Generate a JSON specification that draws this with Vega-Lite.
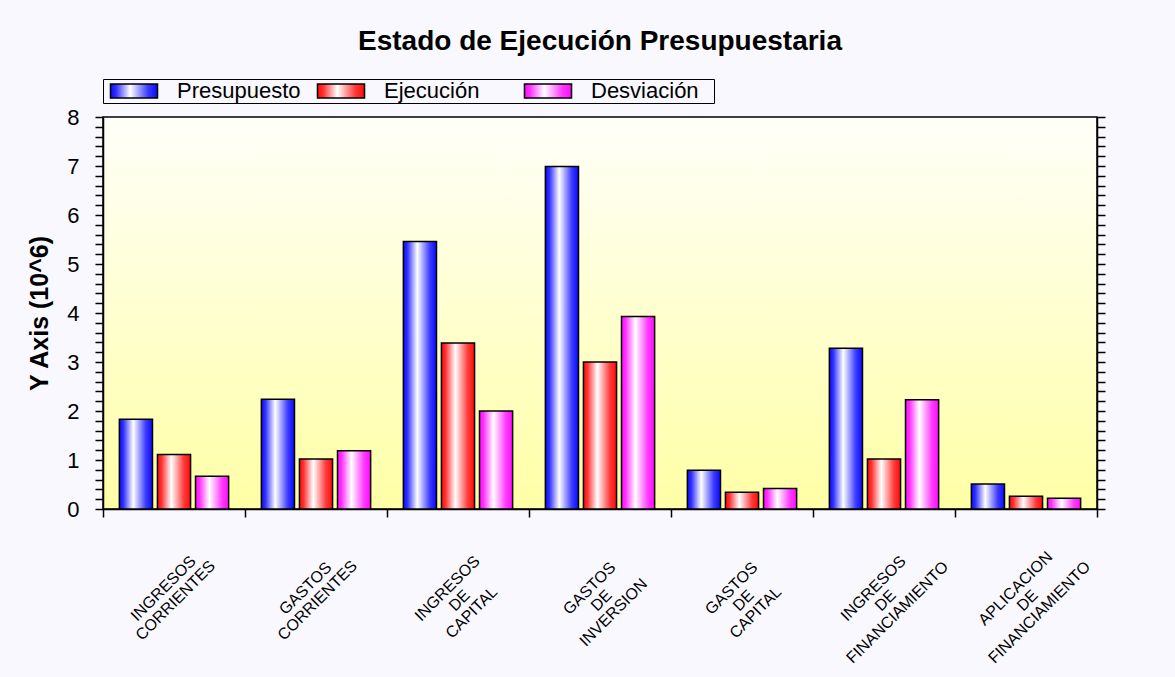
{
  "$schema": "https://vega.github.io/schema/vega-lite/v6.json",
  "autosize": {"type": "none"},
  "padding": {"left": 103, "top": 117, "right": 78, "bottom": 168},
  "width": 994,
  "height": 392,
  "background": "#f8f8fe",
  "title": {
    "text": "Estado de Ejecución Presupuestaria",
    "font": "Liberation Sans",
    "fontSize": 28,
    "fontWeight": "bold",
    "color": "black",
    "anchor": "middle",
    "frame": "group",
    "baseline": "alphabetic",
    "offset": 1
  },
  "config": {
    "view": {
      "fill": {
        "gradient": "linear",
        "x1": 0, "y1": 0, "x2": 0, "y2": 1,
        "stops": [
          {"offset": 0, "color": "#fffffa"},
          {"offset": 1, "color": "#ffffa6"}
        ]
      },
      "stroke": "black",
      "strokeWidth": 1.5
    }
  },
  "data": {
    "values": [
      {"categoria": "INGRESOS CORRIENTES", "serie": "Presupuesto", "valor": 1.83},
      {"categoria": "INGRESOS CORRIENTES", "serie": "Ejecución", "valor": 1.11},
      {"categoria": "INGRESOS CORRIENTES", "serie": "Desviación", "valor": 0.67},
      {"categoria": "GASTOS CORRIENTES", "serie": "Presupuesto", "valor": 2.24},
      {"categoria": "GASTOS CORRIENTES", "serie": "Ejecución", "valor": 1.02},
      {"categoria": "GASTOS CORRIENTES", "serie": "Desviación", "valor": 1.19},
      {"categoria": "INGRESOS DE CAPITAL", "serie": "Presupuesto", "valor": 5.46},
      {"categoria": "INGRESOS DE CAPITAL", "serie": "Ejecución", "valor": 3.39},
      {"categoria": "INGRESOS DE CAPITAL", "serie": "Desviación", "valor": 2.0},
      {"categoria": "GASTOS DE INVERSION", "serie": "Presupuesto", "valor": 6.99},
      {"categoria": "GASTOS DE INVERSION", "serie": "Ejecución", "valor": 3.0},
      {"categoria": "GASTOS DE INVERSION", "serie": "Desviación", "valor": 3.93},
      {"categoria": "GASTOS DE CAPITAL", "serie": "Presupuesto", "valor": 0.79},
      {"categoria": "GASTOS DE CAPITAL", "serie": "Ejecución", "valor": 0.34},
      {"categoria": "GASTOS DE CAPITAL", "serie": "Desviación", "valor": 0.42},
      {"categoria": "INGRESOS DE FINANCIAMIENTO", "serie": "Presupuesto", "valor": 3.28},
      {"categoria": "INGRESOS DE FINANCIAMIENTO", "serie": "Ejecución", "valor": 1.02},
      {"categoria": "INGRESOS DE FINANCIAMIENTO", "serie": "Desviación", "valor": 2.23},
      {"categoria": "APLICACION DE FINANCIAMIENTO", "serie": "Presupuesto", "valor": 0.51},
      {"categoria": "APLICACION DE FINANCIAMIENTO", "serie": "Ejecución", "valor": 0.26},
      {"categoria": "APLICACION DE FINANCIAMIENTO", "serie": "Desviación", "valor": 0.22}
    ]
  },
  "encoding": {
    "x": {
      "field": "categoria",
      "type": "nominal",
      "sort": null,
      "scale": {"paddingInner": 0, "paddingOuter": 0},
      "axis": {
        "title": null,
        "labelAngle": -45,
        "labelAlign": "center",
        "labelBaseline": "middle",
        "labelExpr": "split(datum.label, ' ')",
        "labelFont": "Liberation Sans",
        "labelFontSize": 16,
        "labelLineHeight": 17,
        "labelPadding": 71,
        "labelOffset": -11,
        "labelOverlap": false,
        "labelLimit": 0,
        "labelColor": "black",
        "tickBand": "extent",
        "tickSize": 8,
        "tickColor": "black",
        "tickWidth": 1.5,
        "domainColor": "black",
        "domainWidth": 1.5,
        "encode": {"ticks": {"update": {"y": {"value": -8}}}}
      }
    },
    "xOffset": {
      "field": "serie",
      "type": "nominal",
      "scale": {
        "domain": ["Presupuesto", "Ejecución", "Desviación"],
        "paddingInner": 0.13,
        "paddingOuter": 0.43
      }
    },
    "fill": {
      "field": "serie",
      "type": "nominal",
      "scale": {
        "domain": ["Presupuesto", "Ejecución", "Desviación"],
        "range": [
          {"expr": "{gradient: 'linear', x1: 0, y1: 0, x2: 1, y2: 0, stops: [{offset: 0, color: '#0a0aff'}, {offset: 0.12, color: '#3030ff'}, {offset: 0.42, color: '#ffffff'}, {offset: 0.8, color: '#3a3aff'}, {offset: 1, color: '#0a0aff'}]}"},
          {"expr": "{gradient: 'linear', x1: 0, y1: 0, x2: 1, y2: 0, stops: [{offset: 0, color: '#ff0a0a'}, {offset: 0.12, color: '#ff3030'}, {offset: 0.42, color: '#ffffff'}, {offset: 0.8, color: '#ff3a3a'}, {offset: 1, color: '#ff0a0a'}]}"},
          {"expr": "{gradient: 'linear', x1: 0, y1: 0, x2: 1, y2: 0, stops: [{offset: 0, color: '#ff0aff'}, {offset: 0.12, color: '#ff30ff'}, {offset: 0.42, color: '#ffffff'}, {offset: 0.8, color: '#ff3aff'}, {offset: 1, color: '#ff0aff'}]}"}
        ]
      },
      "legend": {
        "orient": "none",
        "legendX": 0,
        "legendY": -38,
        "direction": "horizontal",
        "title": " ",
        "titleOrient": "right",
        "titlePadding": 14,
        "titleFontSize": 8,
        "symbolType": "M-3.36,-1H3.36V1H-3.36Z",
        "symbolSize": 196,
        "symbolStrokeWidth": 1.5,
        "symbolStrokeColor": "black",
        "symbolOpacity": 1,
        "labelFont": "Liberation Sans",
        "labelFontSize": 22,
        "labelColor": "black",
        "labelOffset": 32,
        "labelLimit": 0,
        "columnPadding": 10,
        "gridAlign": "all",
        "padding": 1,
        "symbolOffset": 19,
        "strokeColor": "black"
      }
    }
  },
  "resolve": {"axis": {"y": "independent"}},
  "layer": [
    {
      "transform": [{"filter": "datum.serie === 'Presupuesto'"}],
      "mark": {"type": "bar", "stroke": "black", "strokeWidth": 1.5},
      "encoding": {
        "y": {
          "field": "valor",
          "type": "quantitative",
          "scale": {"domain": [0, 8], "nice": false},
          "axis": {
            "orient": "left",
            "values": [0, 0.2, 0.4, 0.6, 0.8, 1, 1.2, 1.4, 1.6, 1.8, 2, 2.2, 2.4, 2.6, 2.8, 3, 3.2, 3.4, 3.6, 3.8, 4, 4.2, 4.4, 4.6, 4.8, 5, 5.2, 5.4, 5.6, 5.8, 6, 6.2, 6.4, 6.6, 6.8, 7, 7.2, 7.4, 7.6, 7.8, 8],
            "title": "Y Axis (10^6)",
            "titleFont": "Liberation Sans",
            "titleFontSize": 25,
            "titleFontWeight": "bold",
            "titleColor": "black",
            "titlePadding": 14,
            "labelExpr": "abs(datum.value - round(datum.value)) < 0.001 ? '' + round(datum.value) : ''",
            "labelFont": "Liberation Sans",
            "labelFontSize": 22,
            "labelColor": "black",
            "labelPadding": 16,
            "labelOverlap": false,
            "tickSize": 8,
            "tickColor": "black",
            "tickWidth": 1.5,
            "domainColor": "black",
            "domainWidth": 1.5,
            "grid": false,
            "encode": {
              "ticks": {
                "update": {
                  "x": {"signal": "abs(datum.value - round(datum.value)) < 0.001 ? 8 : 5"},
                  "x2": {"signal": "abs(datum.value - round(datum.value)) < 0.001 ? -8 : -5"}
                }
              }
            }
          }
        }
      }
    },
    {
      "transform": [{"filter": "datum.serie === 'Ejecución'"}],
      "mark": {"type": "bar", "stroke": "black", "strokeWidth": 1.5},
      "encoding": {
        "y": {"field": "valor", "type": "quantitative", "axis": null}
      }
    },
    {
      "transform": [{"filter": "datum.serie === 'Desviación'"}],
      "mark": {"type": "bar", "stroke": "black", "strokeWidth": 1.5},
      "encoding": {
        "y": {
          "field": "valor",
          "type": "quantitative",
          "axis": {
            "orient": "right",
            "values": [0, 0.2, 0.4, 0.6, 0.8, 1, 1.2, 1.4, 1.6, 1.8, 2, 2.2, 2.4, 2.6, 2.8, 3, 3.2, 3.4, 3.6, 3.8, 4, 4.2, 4.4, 4.6, 4.8, 5, 5.2, 5.4, 5.6, 5.8, 6, 6.2, 6.4, 6.6, 6.8, 7, 7.2, 7.4, 7.6, 7.8, 8],
            "title": null,
            "labels": false,
            "tickSize": 8,
            "tickColor": "black",
            "tickWidth": 1.5,
            "domainColor": "black",
            "domainWidth": 1.5,
            "grid": false,
            "encode": {
              "ticks": {
                "update": {
                  "x": {"value": 0},
                  "x2": {"signal": "abs(datum.value - round(datum.value)) < 0.001 ? -8 : -5"}
                }
              }
            }
          }
        }
      }
    }
  ]
}
